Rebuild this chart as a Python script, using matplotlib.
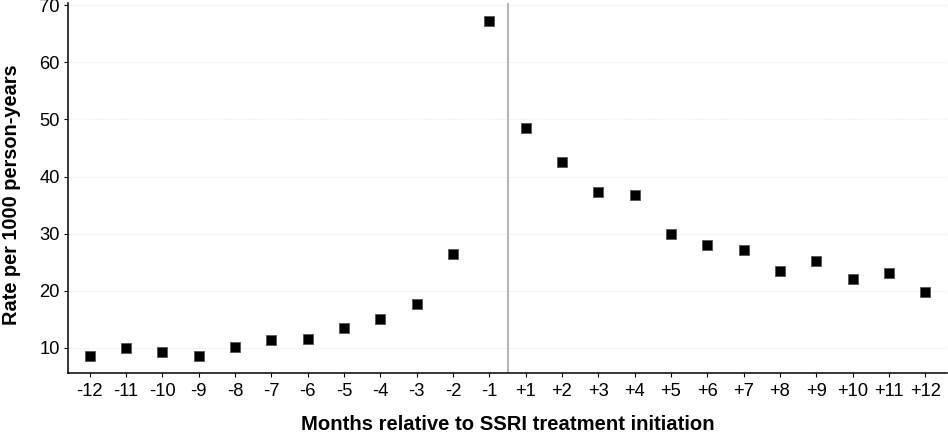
import matplotlib
matplotlib.use("Agg")
import matplotlib.pyplot as plt

months = ["-12", "-11", "-10", "-9", "-8", "-7", "-6", "-5", "-4", "-3", "-2", "-1",
          "+1", "+2", "+3", "+4", "+5", "+6", "+7", "+8", "+9", "+10", "+11", "+12"]
rates = [8.5, 9.95, 9.3, 8.65, 10.2, 11.4, 11.6, 13.4, 15.0, 17.6, 26.4, 67.3,
         48.5, 42.5, 37.3, 36.8, 30.0, 28.1, 27.1, 23.5, 25.2, 22.1, 23.2, 19.8]
y_ticks = [10, 20, 30, 40, 50, 60, 70]

plt.rcParams['font.family'] = ['Liberation Sans', 'DejaVu Sans']

fig = plt.figure(figsize=(9.48, 4.36), dpi=100)
ax = fig.add_axes([68/948, 63/436, (947-68)/948, (373-3)/436])

x = list(range(len(months)))
ax.axvline(11.5, color="#b5b5b5", lw=1.5, zorder=1)
ax.plot(x, rates, linestyle="none", marker="s", markersize=7.8,
        markerfacecolor="black", markeredgecolor="#555555", markeredgewidth=0.6, zorder=3)

ax.set_xlim(-0.6, len(months) - 1 + 0.6)
ax.set_ylim(5.6, 70.4)
ax.set_xticks(x)
ax.set_xticklabels(months)
ax.set_yticks(y_ticks)
ax.yaxis.grid(True, color="#e6e6e6", linestyle=(0, (1, 1.5)), lw=0.8)
ax.set_axisbelow(True)

for s in ["top", "right"]:
    ax.spines[s].set_visible(False)
for s in ["left", "bottom"]:
    ax.spines[s].set_linewidth(1.1)
    ax.spines[s].set_color("black")

ax.tick_params(axis="both", labelsize=13.2, length=3, width=0.8, colors="black", pad=3)
ax.tick_params(axis="x", pad=4)

ax.set_xlabel("Months relative to SSRI treatment initiation", fontsize=14.6,
              fontweight="bold", labelpad=11)
ax.set_ylabel("Rate per 1000 person-years", fontsize=14.4, fontweight="bold")
ax.yaxis.set_label_coords(-0.0535, 0.481)

fig.savefig("out.png", dpi=100)
